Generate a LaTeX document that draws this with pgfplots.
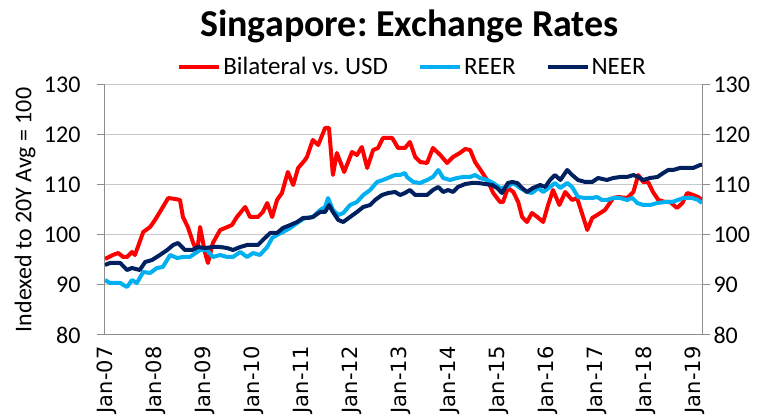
\documentclass[border=0pt]{standalone}
\usepackage{fontspec}
\setmainfont{Carlito}
\newfontfamily\dejavu{DejaVu Sans}
\usepackage{pgfplots}
\pgfplotsset{compat=1.18}
\definecolor{cred}{RGB}{255,0,0}
\definecolor{cblue}{RGB}{0,176,240}
\definecolor{cnavy}{RGB}{0,32,96}
\definecolor{gridc}{RGB}{200,200,200}
\definecolor{axc}{RGB}{140,140,140}
\frenchspacing
\begin{document}
\begin{tikzpicture}
\path[use as bounding box] (-105pt,-82pt) rectangle (661pt,335pt);
\begin{axis}[
  at={(0,0)}, anchor=south west, scale only axis, width=597pt, height=250pt,
  xmin=0, xmax=12.18, ymin=80, ymax=130,
  axis x line*=bottom, axis y line*=left,
  ytick={80,90,...,130},
  xtick={0,1,...,12},
  xticklabels={Jan-07,Jan-08,Jan-09,Jan-10,Jan-11,Jan-12,Jan-13,Jan-14,Jan-15,Jan-16,Jan-17,Jan-18,Jan-19},
  xticklabel style={rotate=90, anchor=east, font=\dejavu\fontsize{21}{21}\selectfont, yshift=-2pt},
  yticklabel style={font=\fontsize{24}{24}\selectfont},
  yticklabel shift=13pt,
  /pgf/number format/assume math mode=true,
  ymajorgrids, grid style={gridc, line width=1pt},
  axis line style={axc, line width=1pt},
  y tick style={axc, line width=1pt},
  x tick style={draw=none},
  tick align=outside, major tick length=8pt,
  every axis y label/.style={at={(axis description cs:0,0.5)}, xshift=-80pt, rotate=90, anchor=center},
  ylabel={Indexed to 20Y Avg = 100},
  ylabel style={font=\fontsize{24}{26}\selectfont},
  title={Singapore: Exchange Rates},
  title style={font=\bfseries\fontsize{38}{40}\selectfont, at={(0.5,1)}, anchor=center, yshift=53pt, xshift=6pt},
  legend style={at={(0.5,1)}, anchor=center, yshift=18pt, xshift=9pt, draw=none, fill=none, legend columns=3, font=\fontsize{25}{27}\selectfont, /tikz/every even column/.append style={column sep=28pt}},
  legend image code/.code={\draw[#1] (0pt,0pt) -- (40pt,0pt);},
  every axis plot/.append style={line width=4pt, line join=round},
]
\addplot[cred] coordinates {
(0,95.2)(0.16,96)(0.27,96.4)(0.37,95.6)(0.45,95.6)(0.55,96.6)(0.61,96)(0.67,97.6)(0.78,100.6)(0.92,101.6)
(1.02,103)(1.12,104.6)(1.29,107.4)(1.43,107.2)(1.53,107)(1.59,103.6)(1.69,101.6)(1.80,98.4)(1.88,96.6)(1.94,101.6)
(2.04,96.5)(2.10,94.4)(2.20,98.4)(2.35,101)(2.45,101.4)(2.59,102)(2.69,103.6)(2.86,105.6)(2.96,103.6)
(3.12,103.6)(3.22,104.6)(3.31,106.4)(3.41,103.6)(3.51,107)(3.61,108.4)(3.73,112.6)(3.84,110)(3.94,113.4)
(4.08,115)(4.12,115.6)(4.24,119)(4.35,118)(4.49,121.4)(4.57,121.4)(4.65,112)(4.73,116.4)(4.88,112.6)
(5.04,116.6)(5.14,116)(5.24,117.6)(5.35,113.4)(5.47,117)(5.57,117.4)(5.67,119.4)(5.86,119.4)(5.98,117.4)
(6.12,117.4)(6.22,118.6)(6.33,115.6)(6.43,114.6)(6.57,114.4)(6.69,117.4)(6.84,116)(6.98,114.4)
(7.10,115.6)(7.24,116.4)(7.35,117.2)(7.45,117)(7.55,114.6)(7.69,112.6)(7.82,110.6)(7.92,108.4)
(8.06,106.6)(8.12,106.6)(8.22,109.4)(8.33,108.6)(8.43,106.6)(8.51,103.6)(8.61,102.6)(8.71,104.4)(8.82,103.6)(8.94,102.6)
(9.04,106)(9.14,109)(9.27,106)(9.39,108.6)(9.53,107)(9.63,107.4)(9.73,104.4)(9.84,101)(9.94,103.4)
(10.04,104)(10.20,105)(10.37,107.4)(10.47,107.6)(10.65,107.4)(10.78,108.6)(10.88,112)(10.98,110.6)
(11.08,110.6)(11.18,108.6)(11.29,107)(11.43,106.6)(11.53,106.6)(11.67,105.4)(11.78,106.4)(11.88,108.4)
(12.00,108)(12.10,107.6)(12.18,107)
};
\addlegendentry{Bilateral vs. USD}
\addplot[cblue] coordinates {
(0,91)(0.10,90.4)(0.31,90.4)(0.45,89.6)(0.55,91)(0.65,90.4)(0.78,92.6)(0.92,92.4)
(1.06,93.4)(1.18,93.6)(1.33,96)(1.47,95.4)(1.59,95.6)(1.73,95.6)(1.88,96.6)(1.94,97)
(2.08,97)(2.20,95.6)(2.35,96)(2.49,95.6)(2.61,95.6)(2.76,96.6)(2.90,95.6)
(3.02,96.4)(3.16,96)(3.31,97.6)(3.41,99.4)(3.51,100)(3.63,100.6)(3.78,101.4)(3.92,102.4)
(4.08,103.4)(4.24,103.6)(4.39,105)(4.49,105.6)(4.55,107.4)(4.65,105)(4.76,104)(4.86,104.4)
(5.00,106)(5.14,106.6)(5.27,108)(5.41,109)(5.55,110.6)(5.67,111)(5.82,111.6)(5.92,112)
(6.02,112)(6.12,112.4)(6.16,111.6)(6.29,110.6)(6.43,110.4)(6.57,111)(6.69,111.6)(6.80,113)(6.90,111.4)
(7.04,111)(7.18,111.4)(7.31,111.6)(7.45,111.6)(7.55,112)(7.65,111.4)(7.80,111)(7.92,110.4)
(8.06,109.4)(8.20,109.6)(8.33,110.4)(8.47,109.4)(8.61,108.6)(8.71,108.4)(8.84,109.4)(8.94,108.6)
(9.08,109.6)(9.18,110.4)(9.29,109.4)(9.43,110.4)(9.53,109.6)(9.65,107.6)(9.80,107.4)(9.94,107.4)
(10.04,107.6)(10.14,107)(10.24,107)(10.37,107.4)(10.51,107.4)(10.65,107)(10.76,107.4)(10.86,106.4)(10.98,106)
(11.12,106)(11.27,106.4)(11.43,106.6)(11.57,106.6)(11.69,107)(11.80,107.4)(11.98,107.4)
(12.10,107)(12.18,106.4)
};
\addlegendentry{REER}
\addplot[cnavy] coordinates {
(0,94)(0.10,94.4)(0.31,94.4)(0.45,93)(0.55,93.4)(0.71,93)(0.82,94.6)(0.96,95)
(1.12,96)(1.27,97)(1.39,98)(1.49,98.4)(1.63,97)(1.78,97)(1.90,97.6)
(2.04,97.4)(2.20,97.6)(2.35,97.6)(2.49,97.4)(2.61,97)(2.76,97.6)(2.90,98)
(3.02,98)(3.12,98)(3.22,99)(3.37,100.4)(3.51,100.4)(3.63,101.4)(3.78,102)(3.92,102.6)
(4.04,103.4)(4.14,103.4)(4.24,103.6)(4.39,104.6)(4.49,104.6)(4.57,106)(4.65,104.6)(4.76,103)(4.86,102.6)
(5.00,103.6)(5.14,104.6)(5.27,105.6)(5.41,106)(5.51,107)(5.65,108)(5.78,108.4)(5.92,108.6)
(6.02,108)(6.12,108.4)(6.22,109)(6.33,108)(6.43,108)(6.57,108)(6.69,109)(6.80,109.6)(6.90,108.6)
(7.00,109)(7.10,108.6)(7.20,109.6)(7.35,110.2)(7.49,110.4)(7.61,110.4)(7.76,110.2)(7.90,110)
(8.00,109.4)(8.10,108.4)(8.22,110.4)(8.31,110.6)(8.41,110.4)(8.51,109.4)(8.61,108.6)(8.73,109.4)(8.88,110)(8.98,109.6)
(9.08,111)(9.18,112)(9.29,111)(9.43,113)(9.53,112)(9.65,111)(9.80,110.6)(9.94,110.6)
(10.06,111.4)(10.24,111)(10.37,111.4)(10.51,111.6)(10.65,111.6)(10.78,112)(10.88,111.6)(10.98,111)
(11.12,111.4)(11.27,111.6)(11.39,112.4)(11.49,113)(11.59,113)(11.73,113.4)(11.88,113.4)
(12.00,113.4)(12.14,114)(12.18,114)
};
\addlegendentry{NEER}
\end{axis}
\begin{axis}[
  at={(0,0)}, anchor=south west, scale only axis, width=597pt, height=250pt,
  xmin=0, xmax=12.18, ymin=80, ymax=130,
  axis y line*=right, axis x line=none,
  ytick={80,90,...,130},
  yticklabel style={font=\fontsize{24}{24}\selectfont},
  /pgf/number format/assume math mode=true,
  axis line style={axc, line width=1pt},
  y tick style={axc, line width=1pt},
  tick align=outside, major tick length=8pt,
]
\addplot[draw=none] coordinates {(0,100)};
\end{axis}
\end{tikzpicture}
\end{document}
